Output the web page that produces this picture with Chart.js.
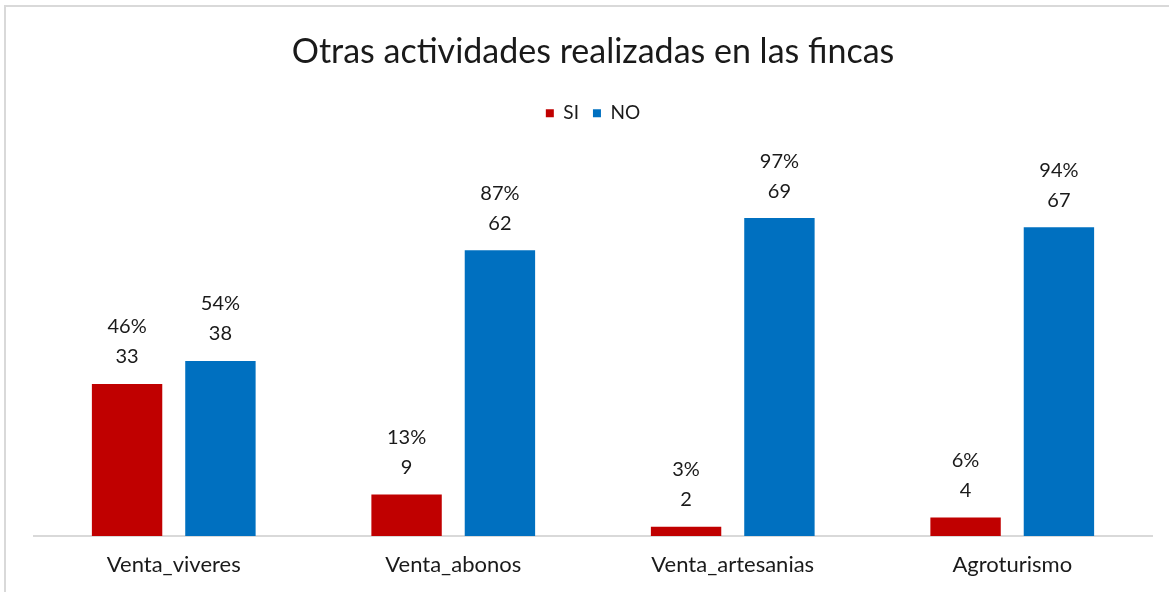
<!DOCTYPE html>
<html>
<head>
<meta charset="utf-8">
<script src="https://cdn.jsdelivr.net/npm/chart.js@4/dist/chart.umd.min.js"></script>
<style>
html,body{margin:0;padding:0;background:#fff;}
#wrap{position:relative;width:1169px;height:592px;}
</style>
</head>
<body>
<div id="wrap"><canvas id="c" width="1169" height="592"></canvas></div>
<script>
const categories = ["Venta_viveres", "Venta_abonos", "Venta_artesanias", "Agroturismo"];
const siValues = [33, 9, 2, 4];
const noValues = [38, 62, 69, 67];
const siPercent = ["46%", "13%", "3%", "6%"];
const noPercent = ["54%", "87%", "97%", "94%"];
const titleText = "Otras actividades realizadas en las fincas";

const FONT = "Lato, 'Open Sans', sans-serif";

const borderPlugin = {
  id: 'frame',
  beforeDraw(chart) {
    const ctx = chart.ctx;
    ctx.save();
    ctx.fillStyle = '#fff';
    ctx.fillRect(0, 0, chart.width, chart.height);
    ctx.strokeStyle = '#d9d9d9';
    ctx.lineWidth = 2;
    ctx.strokeRect(5, 6, chart.width + 10, chart.height + 10);
    ctx.restore();
  }
};

const labelPlugin = {
  id: 'barLabels',
  afterDatasetsDraw(chart) {
    const ctx = chart.ctx;
    ctx.save();
    ctx.font = "20px " + FONT;
    ctx.fillStyle = '#1a1a1a';
    ctx.textAlign = 'center';
    ctx.textBaseline = 'middle';
    chart.data.datasets.forEach((ds, di) => {
      const meta = chart.getDatasetMeta(di);
      meta.data.forEach((bar, i) => {
        ctx.fillText(String(ds.data[i]), bar.x, bar.y - 27);
        ctx.fillText(ds.percents[i], bar.x, bar.y - 57);
      });
    });
    ctx.restore();
  }
};

new Chart(document.getElementById('c'), {
  type: 'bar',
  data: {
    labels: categories,
    datasets: [
      { label: 'SI', data: siValues, percents: siPercent, backgroundColor: '#C00000', categoryPercentage: 0.668, barPercentage: 0.754 },
      { label: 'NO', data: noValues, percents: noPercent, backgroundColor: '#0070C0', categoryPercentage: 0.668, barPercentage: 0.754 }
    ]
  },
  options: {
    responsive: false,
    animation: false,
    devicePixelRatio: 1,
    layout: { padding: { left: 34, right: 17, top: 32, bottom: 0 } },
    plugins: {
      title: {
        display: true, text: titleText, color: '#1a1a1a',
        font: { family: FONT, size: 34, weight: 'normal' },
        padding: { top: 0, bottom: 17 }
      },
      legend: {
        display: true, position: 'top',
        labels: {
          color: '#1a1a1a', font: { family: FONT, size: 19 },
          boxWidth: 8, boxHeight: 8, padding: 14
        }
      },
      tooltip: { enabled: false }
    },
    scales: {
      x: {
        grid: { display: false, drawTicks: false },
        border: { display: true, color: '#d9d9d9', width: 2 },
        ticks: { color: '#1a1a1a', font: { family: FONT, size: 22 }, padding: 16 },
        afterFit: (scale) => { scale.height = 56; }
      },
      y: {
        display: false,
        min: 0, max: 87.5
      }
    }
  },
  plugins: [borderPlugin, labelPlugin]
});
</script>
</body>
</html>
